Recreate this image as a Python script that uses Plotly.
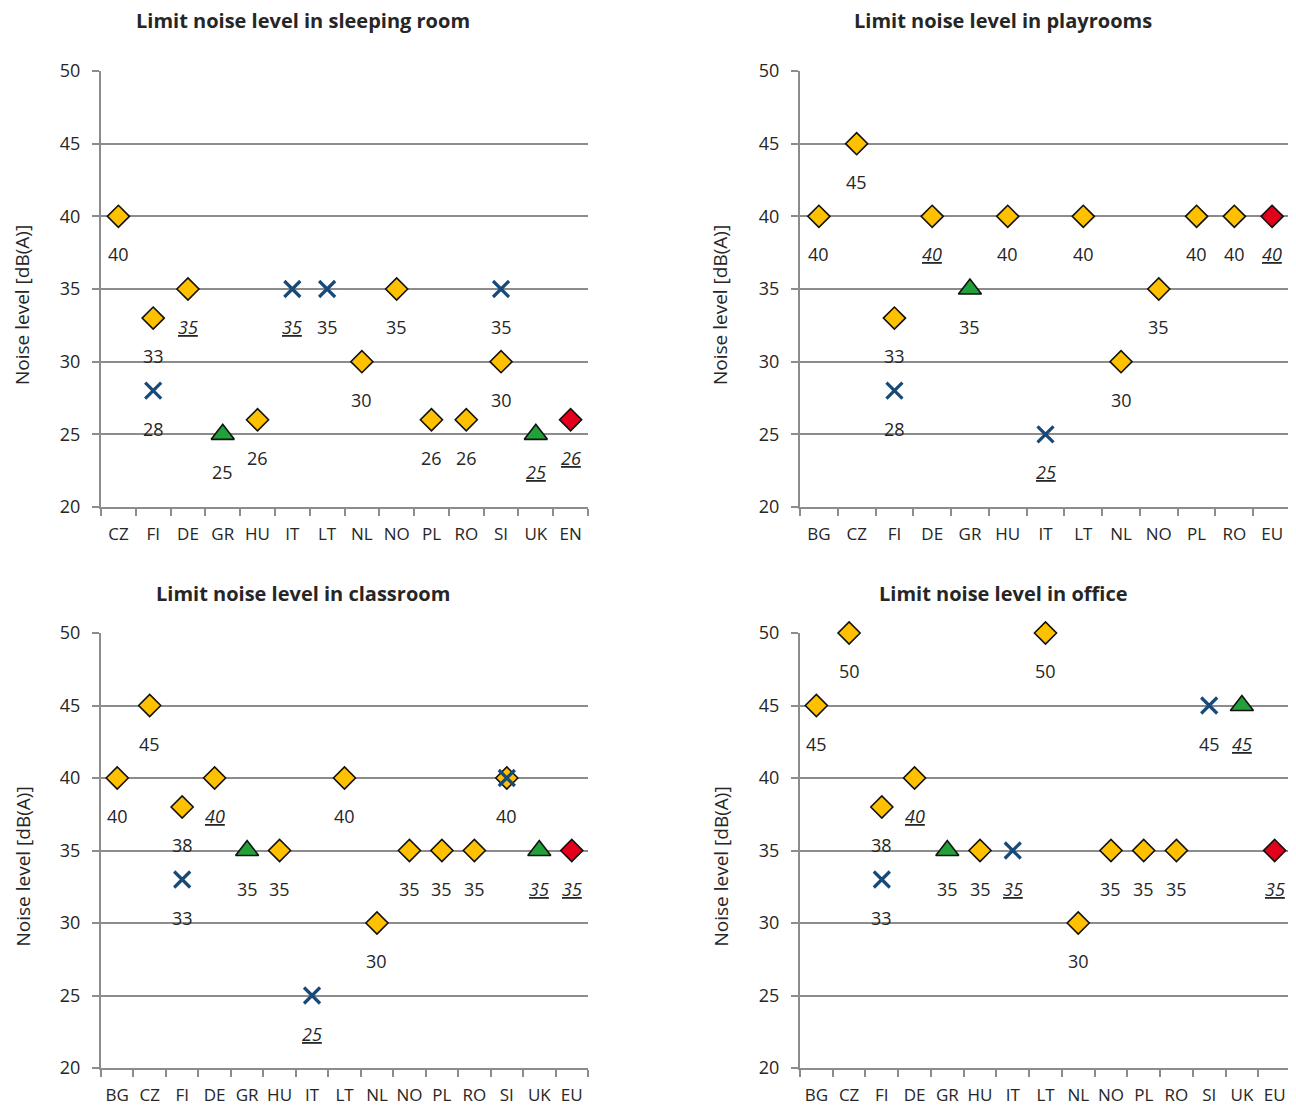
import plotly.graph_objects as go

# ---------------- data ----------------
titles = ["Limit noise level in sleeping room", "Limit noise level in playrooms",
          "Limit noise level in classroom", "Limit noise level in office"]

sleep_cats = ["CZ", "FI", "DE", "GR", "HU", "IT", "LT", "NL", "NO", "PL", "RO", "SI", "UK", "EN"]
sleep_yellow = [40, 33, 35, None, 26, None, None, 30, 35, 26, 26, 30, None, None]
sleep_blue = [None, 28, None, None, None, 35, 35, None, None, None, None, 35, None, None]
sleep_green = [None, None, None, 25, None, None, None, None, None, None, None, None, 25, None]
sleep_red = [None, None, None, None, None, None, None, None, None, None, None, None, None, 26]
sleep_ul = {"yellow": ["DE"], "blue": ["IT"], "green": ["UK"], "red": ["EN"]}

play_cats = ["BG", "CZ", "FI", "DE", "GR", "HU", "IT", "LT", "NL", "NO", "PL", "RO", "EU"]
play_yellow = [40, 45, 33, 40, None, 40, None, 40, 30, 35, 40, 40, None]
play_blue = [None, None, 28, None, None, None, 25, None, None, None, None, None, None]
play_green = [None, None, None, None, 35, None, None, None, None, None, None, None, None]
play_red = [None, None, None, None, None, None, None, None, None, None, None, None, 40]
play_ul = {"yellow": ["DE"], "blue": ["IT"], "green": [], "red": ["EU"]}

class_cats = ["BG", "CZ", "FI", "DE", "GR", "HU", "IT", "LT", "NL", "NO", "PL", "RO", "SI", "UK", "EU"]
class_yellow = [40, 45, 38, 40, None, 35, None, 40, 30, 35, 35, 35, 40, None, None]
class_blue = [None, None, 33, None, None, None, 25, None, None, None, None, None, 40, None, None]
class_green = [None, None, None, None, 35, None, None, None, None, None, None, None, None, 35, None]
class_red = [None] * 14 + [35]
class_ul = {"yellow": ["DE"], "blue": ["IT"], "green": ["UK"], "red": ["EU"]}

office_cats = ["BG", "CZ", "FI", "DE", "GR", "HU", "IT", "LT", "NL", "NO", "PL", "RO", "SI", "UK", "EU"]
office_yellow = [45, 50, 38, 40, None, 35, None, 50, 30, 35, 35, 35, None, None, None]
office_blue = [None, None, 33, None, None, None, 35, None, None, None, None, None, 45, None, None]
office_green = [None, None, None, None, 35, None, None, None, None, None, None, None, None, 45, None]
office_red = [None] * 14 + [35]
office_ul = {"yellow": ["DE"], "blue": ["IT"], "green": ["UK"], "red": ["EU"]}

y_ticks = [20, 25, 30, 35, 40, 45, 50]

panels = [
    (sleep_cats, {"yellow": sleep_yellow, "blue": sleep_blue, "green": sleep_green, "red": sleep_red}, sleep_ul),
    (play_cats, {"yellow": play_yellow, "blue": play_blue, "green": play_green, "red": play_red}, play_ul),
    (class_cats, {"yellow": class_yellow, "blue": class_blue, "green": class_green, "red": class_red}, class_ul),
    (office_cats, {"yellow": office_yellow, "blue": office_blue, "green": office_green, "red": office_red}, office_ul),
]

# ---------------- styles ----------------
OFF = 8                      # default page body margin
W, H = 1296 - OFF, 1106 - OFF
FONT = "Open Sans"
TXT = "#262626"
GRID = "#8c8c8c"
styles = {
    "yellow": dict(symbol="diamond", size=17, color="#FFC000", line=dict(color="#111111", width=1.6)),
    "blue": dict(symbol="x-thin", size=16, color="#174A78", line=dict(color="#174A78", width=3.2)),
    "green": dict(symbol="triangle-up", size=20, color="#22A03A", line=dict(color="#111111", width=1.6)),
    "red": dict(symbol="diamond", size=17, color="#E3001B", line=dict(color="#111111", width=1.6)),
}

# pixel geometry of plot areas in the screenshot (left, right, top, bottom)
boxes = [(101, 588, 71, 507), (800, 1291, 71, 507), (101, 588, 633, 1068), (800, 1291, 633, 1068)]
title_pos = [(303, 20), (1003, 20), (303, 593), (1003, 593)]
ytitle_x = [22, 720, 22, 720]


def px(v):
    return (v - OFF) / W


def py(v):
    return 1 - (v - OFF) / H


fig = go.Figure()
annotations = []
layout = {}

for i, (cats, series, ul) in enumerate(panels):
    k = "" if i == 0 else str(i + 1)
    xa, ya = "x" + k, "y" + k
    l, r, t, b = boxes[i]
    layout["xaxis" + k] = dict(
        domain=[px(l), px(r)], anchor=ya, type="category",
        categoryorder="array", categoryarray=cats, range=[-0.5, len(cats) - 0.5],
        tickson="boundaries", ticks="outside", ticklen=7, tickwidth=2, tickcolor=GRID,
        showline=True, linecolor=GRID, linewidth=2, showgrid=False,
        tickfont=dict(size=17, color=TXT, family=FONT), ticklabelstandoff=11,
        tickangle=0, automargin=False, fixedrange=True,
    )
    layout["yaxis" + k] = dict(
        domain=[py(b), py(t)], anchor=xa, range=[20, 50],
        tickvals=y_ticks, ticks="outside", ticklen=7, tickwidth=2, tickcolor=GRID,
        showline=True, linecolor=GRID, linewidth=2,
        showgrid=True, gridcolor=GRID, gridwidth=2, zeroline=False,
        tickfont=dict(size=18, color=TXT, family=FONT), ticklabelstandoff=8,
        automargin=False, fixedrange=True,
    )
    labeled = set()
    for name in ["yellow", "green", "red", "blue"]:
        vals = series[name]
        xs = [c for c, v in zip(cats, vals) if v is not None]
        ys = [v for v in vals if v is not None]
        fig.add_trace(go.Scatter(x=xs, y=ys, mode="markers", marker=styles[name],
                                 xaxis=xa, yaxis=ya, cliponaxis=False, showlegend=False,
                                 hoverinfo="x+y"))
        for c, v in zip(xs, ys):
            if (c, v) in labeled:
                continue
            labeled.add((c, v))
            txt = f"<i><u>{v}</u></i>" if c in ul[name] else str(v)
            annotations.append(dict(x=c, y=v, xref=xa, yref=ya, text=txt, showarrow=False,
                                    yshift=-38, font=dict(size=18, color=TXT, family=FONT)))
    tx, ty = title_pos[i]
    annotations.append(dict(x=px(tx), y=py(ty), xref="paper", yref="paper",
                            text=f"<b>{titles[i]}</b>", showarrow=False,
                            xanchor="center", yanchor="middle",
                            font=dict(size=20, color=TXT, family=FONT)))
    annotations.append(dict(x=px(ytitle_x[i]), y=py((t + b) / 2 + 16),
                            xref="paper", yref="paper", text="Noise level [dB(A)]",
                            textangle=-90, showarrow=False, xanchor="center", yanchor="middle",
                            font=dict(size=19, color=TXT, family=FONT)))

fig.update_layout(
    width=W, height=H, margin=dict(l=0, r=0, t=0, b=0),
    paper_bgcolor="white", plot_bgcolor="white",
    annotations=annotations, **layout,
)

fig.write_html("out.html")
